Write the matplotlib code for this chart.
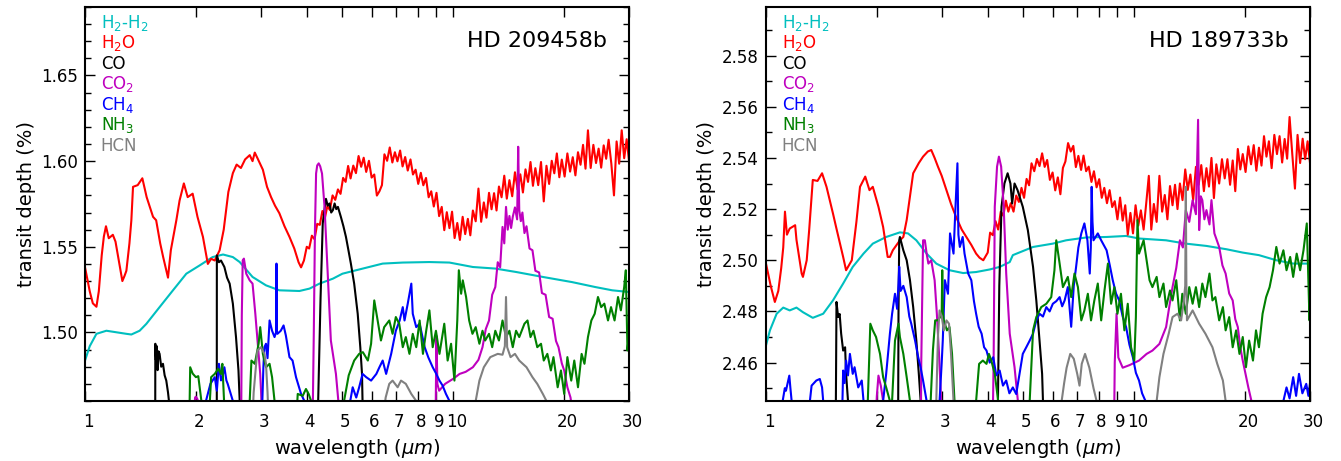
import matplotlib
matplotlib.use("Agg")
import matplotlib.pyplot as plt
import matplotlib.ticker as ticker
import matplotlib.transforms as mtransforms

# wavelength grid of the noisy long-wavelength part of the water curves (both panels)
NOISE_WL = [4.0, 4.06, 4.13, 4.2, 4.27, 4.34, 4.41, 4.48, 4.55, 4.62,
            4.7, 4.78, 4.86, 4.94, 5.02, 5.1, 5.18, 5.26, 5.35, 5.44,
            5.53, 5.62, 5.71, 5.8, 5.9, 6.0, 6.1, 6.2, 6.3, 6.4,
            6.5, 6.61, 6.72, 6.83, 6.94, 7.05, 7.17, 7.28, 7.4, 7.52,
            7.65, 7.77, 7.9, 8.03, 8.16, 8.29, 8.43, 8.57, 8.71, 8.85,
            9.0, 9.15, 9.3, 9.45, 9.6, 9.76, 9.92, 10.08, 10.25, 10.42,
            10.6, 10.77, 10.95, 11.12, 11.3, 11.5, 11.7, 11.9, 12.1, 12.3,
            12.5, 12.7, 12.9, 13.1, 13.3, 13.52, 13.75, 13.97, 14.2, 14.45,
            14.7, 14.95, 15.2, 15.45, 15.7, 15.95, 16.2, 16.45, 16.7, 17.0,
            17.3, 17.6, 17.9, 18.2, 18.5, 18.8, 19.1, 19.4, 19.7, 20.05,
            20.4, 20.75, 21.1, 21.45, 21.8, 22.15, 22.5, 22.85, 23.2, 23.6,
            24.0, 24.4, 24.8, 25.2, 25.6, 26.0, 26.4, 26.85, 27.3, 27.75,
            28.2, 28.65, 29.1, 29.55, 30.0]

# ---------------- HD 209458b (left panel) ----------------
L_H2H2_WL = [1.0, 1.03, 1.074, 1.143, 1.295, 1.336, 1.407, 1.467, 1.594, 1.733, 1.884, 2.05, 2.22, 2.37,
             2.52, 2.63, 2.85, 3.10, 3.37, 3.82, 4.07, 4.33, 4.71, 5.0, 5.68, 6.43, 7.29, 8.61, 9.76,
             11.3, 13.0, 14.8, 17.5, 21.0, 24.3, 27.0, 30.0]
L_H2H2_TD = [1.4836, 1.492, 1.4992, 1.501, 1.4992, 1.4988, 1.501, 1.505, 1.5148, 1.5246, 1.5343, 1.5392,
             1.544, 1.5455, 1.544, 1.5411, 1.5324, 1.5275, 1.5246, 1.5242, 1.5256, 1.5285, 1.5314, 1.5343,
             1.5373, 1.5402, 1.5408, 1.5411, 1.5408, 1.5382, 1.5373, 1.5353, 1.5324, 1.5294, 1.5265,
             1.5246, 1.5236]

L_H2O_WL = [1.0, 1.03, 1.05, 1.074, 1.09, 1.11, 1.125, 1.14, 1.16, 1.19, 1.21, 1.24, 1.263, 1.28, 1.295,
            1.32, 1.336, 1.35, 1.39, 1.431, 1.47, 1.53, 1.56, 1.60, 1.63, 1.68, 1.71, 1.77, 1.806, 1.855,
            1.90, 1.96, 2.02, 2.09, 2.155, 2.2, 2.25, 2.32, 2.38, 2.45, 2.52, 2.58, 2.65, 2.72, 2.80, 2.85,
            2.89, 2.95, 3.04, 3.12, 3.20, 3.28, 3.37, 3.48, 3.59, 3.70, 3.80, 3.86, 3.93]
L_H2O_TD = [1.538, 1.524, 1.517, 1.515, 1.524, 1.545, 1.556, 1.562, 1.555, 1.557, 1.553, 1.540, 1.530,
            1.533, 1.536, 1.552, 1.5655, 1.585, 1.586, 1.590, 1.579, 1.5675, 1.5655, 1.552, 1.544, 1.532,
            1.548, 1.5655, 1.577, 1.587, 1.579, 1.581, 1.5675, 1.5558, 1.540, 1.543, 1.542, 1.548, 1.560,
            1.582, 1.593, 1.598, 1.596, 1.601, 1.6035, 1.600, 1.605, 1.601, 1.595, 1.585, 1.579, 1.574,
            1.5696, 1.562, 1.5558, 1.549, 1.541, 1.538, 1.542]
L_H2O_NOISE_TD = [1.550, 1.549, 1.5565, 1.5544, 1.5634, 1.5628, 1.5709, 1.5668, 1.5738, 1.5715,
                  1.580, 1.5774, 1.5835, 1.5809, 1.5902, 1.5879, 1.5972, 1.5899, 1.5974, 1.593,
                  1.603, 1.5967, 1.602, 1.5937, 1.6002, 1.5904, 1.5922, 1.5799, 1.5824, 1.586,
                  1.604, 1.6002, 1.608, 1.5992, 1.6052, 1.5999, 1.6062, 1.5969, 1.6024, 1.5945,
                  1.601, 1.5922, 1.595, 1.5867, 1.5932, 1.5859, 1.5902, 1.5789, 1.5824, 1.5735,
                  1.5815, 1.5679, 1.5733, 1.5597, 1.5702, 1.5609, 1.5705, 1.5551, 1.5639, 1.554,
                  1.5675, 1.5574, 1.5663, 1.5567, 1.5712, 1.5649, 1.584, 1.5646, 1.5759, 1.567,
                  1.5815, 1.5719, 1.5813, 1.5712, 1.5852, 1.5789, 1.5915, 1.5781, 1.5889, 1.5795,
                  1.5935, 1.5834, 1.5923, 1.5817, 1.5952, 1.5879, 1.5995, 1.5856, 1.5959, 1.586,
                  1.5995, 1.5765, 1.5973, 1.5867, 1.6002, 1.5929, 1.6045, 1.5906, 1.6009, 1.591,
                  1.6045, 1.5939, 1.6023, 1.5917, 1.6052, 1.5979, 1.6095, 1.5956, 1.618, 1.596,
                  1.6095, 1.5989, 1.6073, 1.5962, 1.6092, 1.6014, 1.6125, 1.5986, 1.580, 1.6115,
                  1.5985, 1.618, 1.6017, 1.6128, 1.600]

L_CO_WL = [[1.551, 1.552, 1.558, 1.566, 1.574, 1.583, 1.594, 1.61, 1.628, 1.645, 1.662, 1.68, 1.69, 1.70],
           [2.279, 2.28, 2.31, 2.34, 2.39, 2.43, 2.47, 2.52, 2.57, 2.61, 2.63, 2.64],
           [4.285, 4.36, 4.42, 4.47, 4.51, 4.56, 4.61, 4.66, 4.71, 4.76, 4.81, 4.86, 4.95, 5.03, 5.11,
            5.19, 5.27, 5.38, 5.50, 5.59, 5.65, 5.68]]
L_CO_TD = [[1.45, 1.4934, 1.484, 1.492, 1.478, 1.489, 1.4875, 1.480, 1.4817, 1.475, 1.4719, 1.465, 1.46, 1.45],
           [1.45, 1.545, 1.541, 1.542, 1.5382, 1.532, 1.5285, 1.5168, 1.4973, 1.4778, 1.46, 1.45],
           [1.45, 1.52, 1.5636, 1.572, 1.578, 1.574, 1.5753, 1.570, 1.5714, 1.5753, 1.572, 1.5733,
            1.5675, 1.562, 1.5558, 1.548, 1.5402, 1.5285, 1.5109, 1.4914, 1.4758, 1.45]]

L_CO2_WL = [[1.975, 1.99, 2.0, 2.02, 2.035],
            [2.655, 2.665, 2.68, 2.70, 2.74, 2.80, 2.85, 2.90, 2.95, 2.99, 3.03],
            [4.15, 4.18, 4.21, 4.24, 4.27, 4.31, 4.35, 4.40, 4.47, 4.56, 4.65, 4.80, 4.92],
            [8.95, 9.0, 9.05, 9.15, 9.5, 10.0, 10.4, 10.8, 11.3, 11.7, 12.0, 12.25, 12.5, 12.75, 13.0,
             13.2, 13.4, 13.6, 13.75, 13.9, 14.05, 14.2, 14.35, 14.5, 14.7, 14.9, 15.0, 15.1, 15.25, 15.4,
             15.6, 15.8, 16.1, 16.4, 16.7, 17.1, 17.4, 17.8, 18.2, 18.6, 19.0, 19.3, 19.7, 20.0, 20.4,
             20.8, 21.2]]
L_CO2_TD = [[1.45, 1.462, 1.4625, 1.461, 1.45],
            [1.45, 1.51, 1.5421, 1.5431, 1.5343, 1.5304, 1.5285, 1.5109, 1.4914, 1.4758, 1.45],
            [1.45, 1.50, 1.56, 1.5928, 1.5975, 1.5987, 1.597, 1.5928, 1.5733, 1.5343, 1.4953, 1.4758, 1.45],
            [1.45, 1.498, 1.47, 1.466, 1.470, 1.473, 1.4758, 1.477, 1.4797, 1.484, 1.4914, 1.502, 1.507,
             1.522, 1.5265, 1.541, 1.538, 1.5616, 1.552, 1.5733, 1.560, 1.568, 1.561, 1.5675, 1.573,
             1.566, 1.6084, 1.5714, 1.565, 1.570, 1.558, 1.562, 1.549, 1.548, 1.536, 1.535, 1.523,
             1.522, 1.509, 1.508, 1.495, 1.4914, 1.482, 1.4778, 1.468, 1.4621, 1.45]]

L_CH4_WL = [[2.12, 2.13, 2.19, 2.25, 2.28, 2.31, 2.34, 2.36, 2.39, 2.42, 2.44, 2.48, 2.52, 2.54],
            [3.02, 3.05, 3.07, 3.10, 3.13, 3.17, 3.22, 3.27, 3.30, 3.31, 3.32, 3.33, 3.40, 3.46, 3.51,
             3.59, 3.66, 3.74, 3.86, 3.94, 4.0],
            [5.15, 5.33, 5.45, 5.55, 5.67, 5.80, 5.98, 6.18, 6.30, 6.43, 6.57, 6.78, 6.98, 7.15, 7.29,
             7.37, 7.52, 7.69, 7.76, 7.93, 8.10, 8.36, 8.55, 8.79, 8.98, 9.17, 9.35, 9.55, 9.76, 9.9]]
L_CH4_TD = [[1.45, 1.46, 1.470, 1.4739, 1.466, 1.4817, 1.472, 1.4739, 1.4797, 1.472, 1.47, 1.465, 1.46, 1.45],
            [1.45, 1.48, 1.4914, 1.4934, 1.485, 1.507, 1.501, 1.4973, 1.50, 1.5402, 1.50, 1.4992, 1.501,
             1.5041, 1.4982, 1.4856, 1.4836, 1.4739, 1.4641, 1.46, 1.45],
            [1.45, 1.468, 1.462, 1.468, 1.4758, 1.4739, 1.4719, 1.4758, 1.4797, 1.4836, 1.4758, 1.4875,
             1.501, 1.507, 1.5148, 1.507, 1.5168, 1.5285, 1.5109, 1.5031, 1.5051, 1.4914, 1.4855,
             1.4797, 1.4760, 1.4719, 1.4690, 1.4641, 1.46, 1.45]]

L_NH3_WL = [[1.92, 1.93, 1.96, 2.0, 2.03, 2.07, 2.08],
            [2.17, 2.20, 2.25, 2.30, 2.34, 2.36, 2.385, 2.40],
            [2.79, 2.80, 2.83, 2.89, 2.96, 2.99, 3.04, 3.10, 3.17, 3.22, 3.27, 3.29],
            [3.75, 3.78, 3.90, 3.98, 4.05, 4.11, 4.14],
            [5.0, 5.05, 5.2, 5.38, 5.55, 5.68, 5.86, 5.98, 6.10, 6.23, 6.36, 6.49, 6.70, 6.84, 6.98, 7.13,
             7.29, 7.43, 7.60, 7.76, 7.93, 8.10, 8.27, 8.44, 8.61, 8.79, 8.97, 9.17, 9.45, 9.65, 9.86,
             10.07, 10.25, 10.35, 10.50, 10.61, 10.83, 11.04, 11.27, 11.5, 11.77, 12.0, 12.2, 12.5,
             12.75, 13.0, 13.3, 13.6, 13.9, 14.2, 14.5, 14.8, 15.1, 15.6, 15.9, 16.2, 16.5, 16.9, 17.3,
             17.6, 18.0, 18.4, 18.7, 19.2, 19.6, 20.0, 20.4, 20.9, 21.3, 21.8, 22.3, 22.7, 23.2, 23.7,
             24.2, 24.7, 25.2, 25.7, 26.3, 26.8, 27.4, 28.0, 28.5, 29.1, 29.4, 29.7, 30.0]]
L_NH3_TD = [[1.45, 1.4797, 1.4760, 1.4739, 1.4745, 1.46, 1.45],
            [1.45, 1.4739, 1.4758, 1.4788, 1.4758, 1.4817, 1.46, 1.45],
            [1.45, 1.46, 1.4836, 1.4817, 1.4934, 1.5031, 1.4875, 1.4797, 1.4817, 1.4739, 1.46, 1.45],
            [1.45, 1.4641, 1.463, 1.467, 1.464, 1.46, 1.45],
            [1.45, 1.46, 1.475, 1.4836, 1.4875, 1.4885, 1.4836, 1.4934, 1.5187, 1.507, 1.4953, 1.5031,
             1.507, 1.4992, 1.509, 1.5051, 1.4914, 1.4973, 1.4875, 1.4992, 1.4914, 1.507, 1.4875, 1.501,
             1.5129, 1.4914, 1.501, 1.4875, 1.5051, 1.4836, 1.4934, 1.4719, 1.507, 1.5363, 1.5226,
             1.5304, 1.5207, 1.507, 1.4992, 1.5031, 1.4934, 1.501, 1.4953, 1.4992, 1.4914, 1.501,
             1.4953, 1.507, 1.4973, 1.501, 1.4914, 1.501, 1.4973, 1.5051, 1.507, 1.4973, 1.501, 1.4914,
             1.4934, 1.4836, 1.4875, 1.4778, 1.4856, 1.468, 1.4778, 1.4641, 1.4856, 1.4719, 1.4836,
             1.468, 1.4875, 1.4817, 1.4973, 1.507, 1.5109, 1.5207, 1.5148, 1.5168, 1.507, 1.5148, 1.507,
             1.5207, 1.5129, 1.5265, 1.5363, 1.4895, 1.50]]

L_HCN_WL = [[2.85, 2.87, 2.92, 2.94, 3.0, 3.07, 3.10, 3.13, 3.15],
            [6.45, 6.55, 6.70, 6.84, 7.06, 7.21, 7.43, 7.69, 7.93, 8.0],
            [11.4, 11.5, 11.77, 12.1, 12.6, 13.2, 13.6, 13.8, 13.9, 14.0, 14.3, 14.7, 15.1, 15.8, 16.4,
             16.9, 17.5, 17.9, 18.0]]
L_HCN_TD = [[1.45, 1.465, 1.4836, 1.4895, 1.4914, 1.4875, 1.4817, 1.465, 1.45],
            [1.45, 1.462, 1.47, 1.4719, 1.468, 1.4719, 1.47, 1.4641, 1.46, 1.45],
            [1.45, 1.46, 1.4719, 1.4797, 1.4856, 1.4875, 1.487, 1.492, 1.5207, 1.4914, 1.4856, 1.4875,
             1.4836, 1.4797, 1.4739, 1.47, 1.4641, 1.46, 1.45]]

# ---------------- HD 189733b (right panel) ----------------
R_H2H2_WL = [1.0, 1.025, 1.069, 1.114, 1.16, 1.21, 1.26, 1.34, 1.43, 1.52, 1.62, 1.72, 1.84, 1.95, 2.12,
             2.31, 2.43, 2.56, 2.73, 2.90, 3.15, 3.43, 3.72, 4.05, 4.31, 4.59, 4.68, 5.31, 6.01, 6.53,
             7.40, 8.41, 9.50, 10.3, 12.2, 13.8, 15.7, 17.8, 19.7, 21.8, 24.3, 27.0, 30.0]
R_H2H2_TD = [2.4667, 2.4726, 2.4791, 2.4815, 2.4804, 2.4815, 2.4797, 2.4775, 2.4791, 2.4843, 2.4909,
             2.4974, 2.5026, 2.5065, 2.5091, 2.5109, 2.5105, 2.5078, 2.5026, 2.4987, 2.4961, 2.495,
             2.4954, 2.4964, 2.4974, 2.4993, 2.502, 2.5052, 2.5065, 2.5078, 2.5089, 2.5091, 2.5095,
             2.5085, 2.5078, 2.5065, 2.5056, 2.5043, 2.503, 2.502, 2.50, 2.4987, 2.4987]

R_H2O_WL = [1.0, 1.03, 1.057, 1.08, 1.10, 1.114, 1.126, 1.14, 1.16, 1.20, 1.21, 1.25, 1.26, 1.29, 1.31,
            1.34, 1.38, 1.42, 1.46, 1.52, 1.55, 1.62, 1.65, 1.71, 1.76, 1.80, 1.86, 1.91, 1.95, 2.02,
            2.08, 2.14, 2.17, 2.21, 2.31, 2.36, 2.41, 2.51, 2.60, 2.67, 2.75, 2.81, 2.87, 2.93, 3.0, 3.09,
            3.18, 3.28, 3.40, 3.50, 3.61, 3.72, 3.80, 3.89]
R_H2O_TD = [2.4987, 2.490, 2.4837, 2.488, 2.497, 2.505, 2.519, 2.510, 2.5124, 2.5137, 2.508, 2.4948,
            2.4935, 2.500, 2.5118, 2.5314, 2.531, 2.534, 2.5287, 2.5183, 2.513, 2.5013, 2.4961, 2.500,
            2.515, 2.5287, 2.5327, 2.5274, 2.5287, 2.5209, 2.513, 2.5013, 2.5013, 2.5039, 2.5078,
            2.5091, 2.5157, 2.534, 2.538, 2.5405, 2.5425, 2.5431, 2.540, 2.5366, 2.533, 2.5274, 2.522,
            2.517, 2.512, 2.5091, 2.506, 2.5026, 2.501, 2.500]
R_H2O_NOISE_TD = [2.503, 2.5108, 2.5098, 2.5153, 2.512, 2.519, 2.5174, 2.5233, 2.519, 2.5223,
                  2.519, 2.5253, 2.5228, 2.5283, 2.5244, 2.5318, 2.5293, 2.5379, 2.5348, 2.5396,
                  2.5368, 2.5418, 2.5365, 2.5392, 2.5314, 2.5343, 2.5273, 2.5324, 2.5258, 2.5361,
                  2.5386, 2.5458, 2.5425, 2.5447, 2.5364, 2.5408, 2.5353, 2.5409, 2.5348, 2.5366,
                  2.5306, 2.5348, 2.5285, 2.5317, 2.5244, 2.5283, 2.5223, 2.5274, 2.5208, 2.5231,
                  2.516, 2.5245, 2.5155, 2.5215, 2.510, 2.5185, 2.5105, 2.5215, 2.5135, 2.5195,
                  2.512, 2.522, 2.533, 2.512, 2.522, 2.515, 2.533, 2.519, 2.5255, 2.516,
                  2.529, 2.5215, 2.5295, 2.520, 2.530, 2.5235, 2.5355, 2.5275, 2.5335, 2.5235,
                  2.5365, 2.5295, 2.5372, 2.527, 2.536, 2.5288, 2.540, 2.5243, 2.5375, 2.530,
                  2.5395, 2.532, 2.5395, 2.5295, 2.539, 2.527, 2.5435, 2.5355, 2.5415, 2.5345,
                  2.5445, 2.5375, 2.545, 2.535, 2.544, 2.537, 2.5485, 2.5405, 2.5465, 2.536,
                  2.549, 2.5415, 2.5485, 2.5382, 2.5474, 2.5397, 2.556, 2.5415, 2.528, 2.549,
                  2.538, 2.5475, 2.5395, 2.5465, 2.538]

R_CO_WL = [[1.547, 1.548, 1.554, 1.57, 1.585, 1.60, 1.62, 1.64, 1.65, 1.67, 1.68],
           [2.285, 2.29, 2.30, 2.31, 2.36, 2.41, 2.46, 2.51, 2.56, 2.60, 2.63, 2.64],
           [4.26, 4.30, 4.36, 4.44, 4.53, 4.61, 4.66, 4.73, 4.82, 4.98, 5.14, 5.31, 5.42, 5.53, 5.62,
            5.65, 5.68]]
R_CO_TD = [[2.44, 2.445, 2.4837, 2.4778, 2.479, 2.4713, 2.4647, 2.466, 2.4556, 2.445, 2.44],
           [2.44, 2.48, 2.5078, 2.5091, 2.5039, 2.50, 2.4922, 2.4817, 2.4686, 2.4556, 2.445, 2.44],
           [2.44, 2.49, 2.5209, 2.530, 2.534, 2.530, 2.5222, 2.530, 2.5274, 2.5209, 2.5118, 2.4974,
            2.4843, 2.4686, 2.4556, 2.445, 2.44]]

R_CO2_WL = [[1.99, 2.0, 2.02, 2.05, 2.08, 2.09],
            [2.635, 2.64, 2.67, 2.70, 2.73, 2.76, 2.81, 2.87, 2.91, 2.95, 2.99, 3.0],
            [4.13, 4.15, 4.18, 4.24, 4.29, 4.35, 4.42, 4.49, 4.59, 4.73, 4.83, 4.86],
            [8.82, 8.85, 8.95, 9.05, 9.3, 9.7, 10.3, 10.8, 11.2, 11.7, 12.2, 12.45, 12.7, 13.0, 13.3,
             13.55, 13.8, 14.1, 14.4, 14.7, 14.9, 15.0, 15.15, 15.3, 15.5, 15.7, 16.0, 16.2, 16.5, 17.0,
             17.35, 17.7, 18.1, 18.5, 18.8, 19.1, 19.4, 19.7, 20.4, 20.8, 21.0]]
R_CO2_TD = [[2.44, 2.447, 2.4549, 2.451, 2.445, 2.44],
            [2.44, 2.46, 2.5078, 2.5078, 2.5026, 2.4987, 2.50, 2.4922, 2.4791, 2.4634, 2.445, 2.44],
            [2.44, 2.46, 2.5209, 2.5366, 2.5405, 2.5366, 2.5209, 2.4948, 2.4713, 2.4582, 2.445, 2.44],
            [2.44, 2.46, 2.4791, 2.462, 2.458, 2.459, 2.4608, 2.4634, 2.4647, 2.4673, 2.4739, 2.482,
             2.4895, 2.497, 2.5078, 2.505, 2.5196, 2.515, 2.5235, 2.518, 2.5549, 2.5118, 2.525, 2.5235,
             2.516, 2.5196, 2.514, 2.5235, 2.5105, 2.5052, 2.498, 2.4948, 2.487, 2.4843, 2.477, 2.4739,
             2.466, 2.4608, 2.4503, 2.445, 2.44]]

R_CH4_WL = [[1.105, 1.11, 1.125, 1.133, 1.145, 1.157, 1.165, 1.174, 1.18],
            [1.31, 1.316, 1.33, 1.37, 1.40, 1.42, 1.43, 1.44],
            [1.61, 1.62, 1.635, 1.65, 1.67, 1.69, 1.72, 1.74, 1.78, 1.82, 1.84, 1.85],
            [2.07, 2.08, 2.12, 2.17, 2.20, 2.24, 2.27, 2.29, 2.30, 2.32, 2.36, 2.41, 2.45, 2.48, 2.54,
             2.59, 2.63, 2.67, 2.73, 2.75],
            [2.95, 2.96, 3.0, 3.02, 3.06, 3.12, 3.16, 3.23, 3.27, 3.31, 3.33, 3.36, 3.42, 3.46, 3.54,
             3.61, 3.67, 3.72, 3.78, 3.85, 3.91, 3.97, 4.05, 4.14, 4.22, 4.31, 4.40, 4.49, 4.58, 4.68,
             4.78, 4.88, 4.98, 5.09, 5.20, 5.31, 5.42, 5.53, 5.65, 5.77, 5.89, 6.01, 6.14, 6.27, 6.37,
             6.47, 6.60, 6.74, 6.85, 6.95, 7.05, 7.18, 7.32, 7.46, 7.57, 7.62, 7.66, 7.70, 7.75, 7.96,
             8.13, 8.41, 8.58, 8.74, 8.92, 9.10, 9.30, 9.50, 9.70, 9.91, 10.1, 10.3, 10.5, 10.8, 10.9],
            [25.2, 25.4, 25.9, 26.4, 27.0, 27.5, 28.0, 28.6, 29.3, 29.7, 30.0]]
R_CH4_TD = [[2.44, 2.445, 2.450, 2.449, 2.452, 2.4549, 2.450, 2.445, 2.44],
            [2.44, 2.445, 2.451, 2.453, 2.4536, 2.4503, 2.445, 2.44],
            [2.44, 2.4569, 2.452, 2.4608, 2.455, 2.4634, 2.4556, 2.4582, 2.4503, 2.453, 2.445, 2.44],
            [2.44, 2.445, 2.4556, 2.4713, 2.4791, 2.4869, 2.481, 2.4909, 2.4975, 2.488, 2.490, 2.4856,
             2.478, 2.4752, 2.4686, 2.4621, 2.458, 2.453, 2.445, 2.44],
            [2.44, 2.445, 2.46, 2.4686, 2.4922, 2.4869, 2.5105, 2.5026, 2.5209, 2.5379, 2.51, 2.5052,
             2.5091, 2.5026, 2.4948, 2.4922, 2.484, 2.4791, 2.474, 2.4713, 2.466, 2.4647, 2.460, 2.4621,
             2.455, 2.4569, 2.451, 2.453, 2.448, 2.4503, 2.4477, 2.4556, 2.4634, 2.466, 2.4686, 2.4713,
             2.4765, 2.4791, 2.478, 2.4817, 2.480, 2.483, 2.484, 2.4856, 2.482, 2.4843, 2.4895, 2.474,
             2.490, 2.4974, 2.505, 2.5105, 2.5144, 2.5078, 2.4948, 2.505, 2.5287, 2.515, 2.5078, 2.5105,
             2.5078, 2.5039, 2.498, 2.4922, 2.487, 2.4843, 2.478, 2.4739, 2.467, 2.4621, 2.456, 2.453,
             2.448, 2.444, 2.44],
            [2.44, 2.445, 2.4503, 2.446, 2.4543, 2.447, 2.4556, 2.448, 2.4517, 2.447, 2.452]]

R_NH3_WL = [[1.885, 1.89, 1.92, 1.95, 1.99, 2.02, 2.04, 2.08, 2.12, 2.17, 2.18],
            [2.195, 2.20, 2.24, 2.29, 2.31, 2.36, 2.41, 2.46, 2.47],
            [2.79, 2.80, 2.84, 2.88, 2.93, 2.97, 3.0, 3.01, 3.02, 3.04, 3.10, 3.15, 3.20, 3.25, 3.27],
            [3.70, 3.72, 3.79, 3.88, 3.97, 4.03, 4.09, 4.18, 4.27, 4.29],
            [5.15, 5.20, 5.31, 5.42, 5.59, 5.77, 5.95, 6.07, 6.14, 6.27, 6.40, 6.60, 6.74, 6.88, 7.03,
             7.18, 7.32, 7.48, 7.63, 7.79, 7.96, 8.13, 8.30, 8.48, 8.65, 8.83, 9.0, 9.2, 9.4, 9.6, 9.8,
             10.0, 10.1, 10.2, 10.3, 10.6, 10.8, 11.0, 11.2, 11.5, 11.7, 12.0, 12.2, 12.5, 12.7, 13.0,
             13.3, 13.5, 13.8, 14.1, 14.4, 14.7, 15.0, 15.3, 15.6, 16.0, 16.3, 16.6, 17.0, 17.4, 17.7,
             18.1, 18.5, 18.9, 19.3, 19.7, 20.1, 20.5, 21.0, 21.4, 21.8, 22.3, 22.8, 23.3, 23.8, 24.3,
             24.8, 25.4, 25.9, 26.5, 27.0, 27.6, 28.2, 28.8, 29.4, 29.9, 30.0]]
R_NH3_TD = [[2.44, 2.445, 2.4752, 2.4726, 2.47, 2.466, 2.4634, 2.4543, 2.4503, 2.445, 2.44],
            [2.44, 2.445, 2.4686, 2.4752, 2.47, 2.4634, 2.4543, 2.445, 2.44],
            [2.44, 2.445, 2.465, 2.4765, 2.4765, 2.4778, 2.48, 2.4961, 2.48, 2.4765, 2.4726, 2.4739,
             2.4634, 2.445, 2.44],
            [2.44, 2.445, 2.4595, 2.4608, 2.4595, 2.4634, 2.4608, 2.4556, 2.445, 2.44],
            [2.44, 2.445, 2.4726, 2.4778, 2.4817, 2.4830, 2.4856, 2.4961, 2.5078, 2.4987, 2.4895,
             2.4935, 2.4856, 2.4948, 2.4895, 2.4765, 2.4804, 2.4869, 2.4765, 2.4843, 2.4909, 2.4765,
             2.4882, 2.4987, 2.4830, 2.4895, 2.4791, 2.4869, 2.4726, 2.4830, 2.466, 2.4608, 2.4778,
             2.5157, 2.5026, 2.5078, 2.50, 2.4922, 2.4895, 2.4935, 2.4856, 2.4909, 2.4817, 2.4882,
             2.4843, 2.4922, 2.4765, 2.4869, 2.4791, 2.4895, 2.483, 2.4895, 2.4817, 2.4909, 2.4856,
             2.4948, 2.4843, 2.4856, 2.4765, 2.4817, 2.4726, 2.4778, 2.466, 2.4726, 2.4634, 2.47,
             2.4582, 2.4686, 2.4608, 2.4726, 2.466, 2.4791, 2.4856, 2.4895, 2.4961, 2.5052, 2.4987,
             2.5039, 2.4961, 2.5013, 2.4935, 2.5026, 2.4961, 2.5039, 2.5144, 2.4765, 2.49]]

R_HCN_WL = [[2.88, 2.90, 2.93, 2.96, 3.0, 3.04, 3.09, 3.14, 3.18, 3.23, 3.25],
            [6.30, 6.35, 6.45, 6.55, 6.70, 6.85, 7.0, 7.10, 7.2, 7.35, 7.55, 7.75, 7.9, 8.0],
            [11.4, 11.5, 11.7, 12.0, 12.4, 12.7, 13.1, 13.4, 13.6, 13.75, 13.8, 13.85, 13.9, 14.4, 15.0,
             15.6, 16.3, 16.8, 17.4, 17.7, 17.8]]
R_HCN_TD = [[2.44, 2.445, 2.47, 2.4804, 2.478, 2.4726, 2.4765, 2.4752, 2.4634, 2.445, 2.44],
            [2.44, 2.445, 2.452, 2.458, 2.4634, 2.4615, 2.4556, 2.451, 2.4595, 2.4634, 2.458, 2.45,
             2.445, 2.44],
            [2.44, 2.445, 2.4543, 2.4634, 2.4713, 2.4778, 2.4791, 2.4765, 2.483, 2.490, 2.5287, 2.49,
             2.4765, 2.4804, 2.4752, 2.4713, 2.466, 2.4595, 2.453, 2.445, 2.44]]

SPECIES = ["H$_2$-H$_2$", "H$_2$O", "CO", "CO$_2$", "CH$_4$", "NH$_3$", "HCN"]
COLORS = ["c", "r", "k", "m", "b", "g", "gray"]
XTICKS = [1, 2, 3, 4, 5, 6, 7, 8, 9, 10, 20, 30]


def draw_panel(fig, ax, name, curves, ylim, ymajor):
    for (wl, td), color in zip(curves, COLORS):
        if not isinstance(wl[0], list):
            wl, td = [wl], [td]
        for w, t in zip(wl, td):
            ax.plot(w, t, color=color, lw=1.5)

    ax.set_xscale("log")
    ax.set_xlim(1, 30)
    ax.set_ylim(*ylim)
    ax.xaxis.set_major_locator(ticker.FixedLocator(XTICKS))
    ax.xaxis.set_major_formatter(ticker.FixedFormatter([str(t) for t in XTICKS]))
    ax.xaxis.set_minor_locator(ticker.NullLocator())
    ax.yaxis.set_major_locator(ticker.MultipleLocator(ymajor))
    ax.yaxis.set_minor_locator(ticker.MultipleLocator(0.01))
    ax.yaxis.set_major_formatter(ticker.FormatStrFormatter("%.2f"))
    ax.tick_params(which="both", direction="in", top=True, right=True, labelsize=12, width=1)
    ax.tick_params(which="major", length=7)
    ax.tick_params(which="minor", length=4)
    ax.tick_params(axis="x", pad=9)
    ax.tick_params(axis="y", pad=5)
    for sp in ax.spines.values():
        sp.set_linewidth(1.5)
    # the x labels sit a few pixels right of their ticks in the original
    shift = mtransforms.ScaledTranslation(0.03, 0, fig.dpi_scale_trans)
    for lab in ax.get_xticklabels():
        lab.set_transform(lab.get_transform() + shift)

    ax.set_xlabel(r"wavelength ($\mu m$)", fontsize=14)
    ax.set_ylabel("transit depth (%)", fontsize=14)

    for i, (lab, color) in enumerate(zip(SPECIES, COLORS)):
        ax.text(0.029, 0.947 - i * 0.052, lab, color=color, fontsize=12,
                transform=ax.transAxes, va="baseline", ha="left")
    ax.text(0.96, 0.899, name, fontsize=16, transform=ax.transAxes, ha="right", va="baseline")


fig = plt.figure(figsize=(13.41, 4.61), dpi=100)
ax1 = fig.add_axes([0.0634, 0.1302, 0.4057, 0.8547])
ax2 = fig.add_axes([0.5712, 0.1302, 0.4057, 0.8547])

draw_panel(fig, ax1, "HD 209458b",
           [(L_H2H2_WL, L_H2H2_TD), (L_H2O_WL + NOISE_WL, L_H2O_TD + L_H2O_NOISE_TD),
            (L_CO_WL, L_CO_TD), (L_CO2_WL, L_CO2_TD), (L_CH4_WL, L_CH4_TD),
            (L_NH3_WL, L_NH3_TD), (L_HCN_WL, L_HCN_TD)],
           (1.46, 1.69), 0.05)
draw_panel(fig, ax2, "HD 189733b",
           [(R_H2H2_WL, R_H2H2_TD), (R_H2O_WL + NOISE_WL, R_H2O_TD + R_H2O_NOISE_TD),
            (R_CO_WL, R_CO_TD), (R_CO2_WL, R_CO2_TD), (R_CH4_WL, R_CH4_TD),
            (R_NH3_WL, R_NH3_TD), (R_HCN_WL, R_HCN_TD)],
           (2.445, 2.599), 0.02)

fig.savefig("out.png", dpi=100)
